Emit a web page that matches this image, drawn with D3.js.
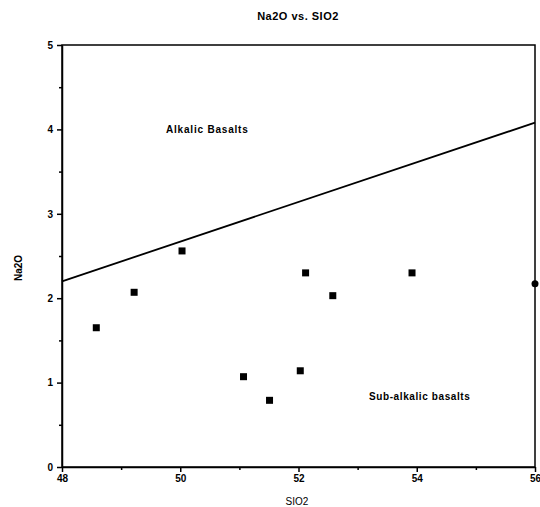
<!DOCTYPE html>
<style>
	body { margin: 0; background: #fff; }
	text { font-family: "Liberation Sans", Arial, sans-serif; fill: #000; }
	.tick text { font-size: 10px; font-weight: bold; }
	.domain, .tick line { stroke: #000; stroke-width: 1.5px; }
</style>
<head>
	<script src="https://d3js.org/d3.v7.min.js"></script>
</head>
<body>
	<svg width="540" height="507"></svg>
</body>
<script>
var sio2 = [48.58, 49.22, 50.03, 51.07, 51.51, 52.03, 52.12, 52.58, 53.92];
var na2o = [1.65, 2.07, 2.56, 1.07, 0.79, 1.14, 2.30, 2.03, 2.30];
var edgeSio2 = [56];
var edgeNa2o = [2.17];
var divideX = [48, 56];
var divideY = [2.2, 4.08];
var xTicks = [48, 50, 52, 54, 56];
var yTicks = [0, 1, 2, 3, 4, 5];

var svg = d3.select("svg"),
	x = d3.scaleLinear().domain([48, 56]).range([62, 535]),
	y = d3.scaleLinear().domain([0, 5]).range([467, 45]);

// frame
svg.append("rect")
	.attr("x", x(48)).attr("y", y(5))
	.attr("width", x(56) - x(48)).attr("height", y(0) - y(5))
	.attr("fill", "none").attr("stroke", "#000").attr("stroke-width", 1.5);

// minor ticks
svg.append("g").attr("transform", "translate(0," + y(0) + ")")
	.call(d3.axisBottom(x).tickValues(d3.range(49, 56, 2)).tickSize(3).tickFormat(""))
	.select(".domain").remove();
svg.append("g").attr("transform", "translate(" + x(48) + ",0)")
	.call(d3.axisLeft(y).tickValues(d3.range(0.5, 5, 1)).tickSize(3).tickFormat(""))
	.select(".domain").remove();

svg.append("g").attr("transform", "translate(0," + y(0) + ")")
	.call(d3.axisBottom(x).tickValues(xTicks).tickSize(5).tickPadding(3).tickSizeOuter(0).tickFormat(d3.format("d")));
svg.append("g").attr("transform", "translate(" + x(48) + ",0)")
	.call(d3.axisLeft(y).tickValues(yTicks).tickSize(5).tickPadding(4).tickSizeOuter(0).tickFormat(d3.format("d")));

// dividing line
svg.append("line")
	.attr("x1", x(divideX[0])).attr("y1", y(divideY[0]))
	.attr("x2", x(divideX[1])).attr("y2", y(divideY[1]))
	.attr("stroke", "#000").attr("stroke-width", 1.8);

svg.selectAll(".pt")
	.data(sio2.map(function(d, i) { return [d, na2o[i]]; }))
	.enter().append("rect")
	.attr("class", "pt")
	.attr("x", function(d) { return x(d[0]) - 3.5; })
	.attr("y", function(d) { return y(d[1]) - 3.5; })
	.attr("width", 7).attr("height", 7)
	.attr("fill", "#000");

svg.selectAll(".edge")
	.data(edgeSio2.map(function(d, i) { return [d, edgeNa2o[i]]; }))
	.enter().append("circle")
	.attr("cx", function(d) { return x(d[0]); })
	.attr("cy", function(d) { return y(d[1]); })
	.attr("r", 3.5).attr("fill", "#000");

svg.append("text").attr("x", 298).attr("y", 20).attr("text-anchor", "middle")
	.style("font-size", "11px").style("font-weight", "bold").style("letter-spacing", "0.5px")
	.text("Na2O  vs.  SIO2");
svg.append("text").attr("x", 297).attr("y", 505).attr("text-anchor", "middle")
	.style("font-size", "10px").text("SIO2");
svg.append("text").attr("transform", "translate(22,268) rotate(-90)").attr("text-anchor", "middle")
	.style("font-size", "10px").style("font-weight", "bold").text("Na2O");
svg.append("text").attr("x", 166).attr("y", 133)
	.style("font-size", "10px").style("font-weight", "bold").style("letter-spacing", "0.8px")
	.text("Alkalic  Basalts");
svg.append("text").attr("x", 369).attr("y", 400)
	.style("font-size", "10px").style("font-weight", "bold").style("letter-spacing", "0.6px")
	.text("Sub-alkalic  basalts");
</script>
